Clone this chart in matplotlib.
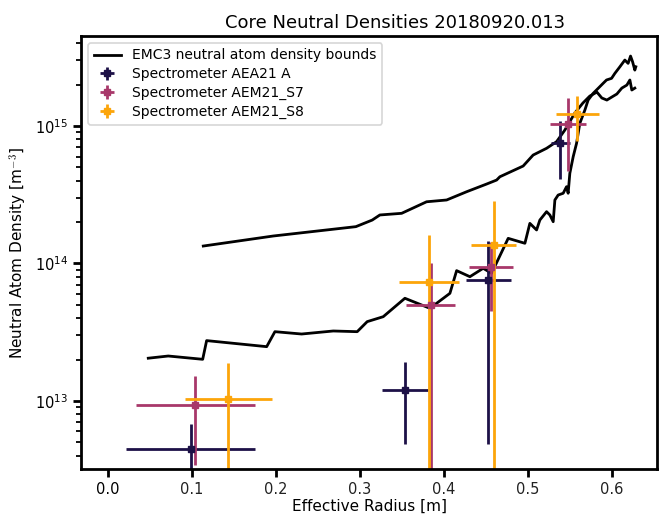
import matplotlib
matplotlib.use("Agg")
import matplotlib.pyplot as plt
import numpy as np

plt.rcParams['mathtext.fontset'] = 'cm'
plt.rcParams['font.family'] = ['DejaVu Sans']

# EMC3 bounds (x in m, log10 density)
upper_x = [0.1137, 0.197, 0.2954, 0.3149, 0.324, 0.3499, 0.3796, 0.4035, 0.4273, 0.4511, 0.463,
           0.4669, 0.4946, 0.5065, 0.5225, 0.5344, 0.5443, 0.5562, 0.5657, 0.574, 0.5824, 0.5883,
           0.5943, 0.6002, 0.6062, 0.6121, 0.6181, 0.6217, 0.624, 0.6276]
upper_log = [14.127, 14.2, 14.268, 14.316, 14.353, 14.365, 14.449, 14.462, 14.522, 14.578, 14.607,
             14.631, 14.709, 14.789, 14.838, 14.886, 14.971, 15.095, 15.167, 15.218, 15.247, 15.204,
             15.189, 15.211, 15.233, 15.276, 15.298, 15.335, 15.262, 15.276]
lower_x = [0.0482, 0.072, 0.113, 0.1177, 0.1892, 0.199, 0.2308, 0.2685, 0.297, 0.3089, 0.328,
           0.3538, 0.3836, 0.4074, 0.4154, 0.4312, 0.447, 0.457, 0.4768, 0.4967, 0.5026, 0.5106,
           0.5145, 0.5225, 0.5264, 0.5304, 0.5324, 0.5363, 0.5423, 0.5463, 0.5482, 0.5502, 0.5542,
           0.5582, 0.5621, 0.5681, 0.572, 0.578, 0.5839, 0.5899, 0.5939, 0.5999, 0.6038, 0.6098,
           0.6157, 0.6196, 0.6225, 0.6249, 0.6276, 0.6288]
lower_log = [13.311, 13.327, 13.303, 13.439, 13.395, 13.504, 13.487, 13.509, 13.504, 13.577, 13.613,
             13.747, 13.674, 13.783, 13.948, 13.904, 13.965, 13.929, 14.183, 14.147, 14.292, 14.244,
             14.316, 14.377, 14.353, 14.304, 14.462, 14.498, 14.511, 14.559, 14.511, 14.656, 14.777,
             14.874, 15.02, 15.116, 15.189, 15.238, 15.274, 15.311, 15.335, 15.347, 15.383, 15.431,
             15.48, 15.456, 15.509, 15.468, 15.407, 15.431]

# Spectrometer data
labels = ["Spectrometer AEA21 A", "Spectrometer AEM21_S7", "Spectrometer AEM21_S8"]
colors = ["#1d1147", "#a8386a", "#fca50a"]
sx = [[0.0987, 0.3538, 0.453, 0.539],
      [0.1042, 0.3844, 0.456, 0.548],
      [0.1435, 0.3824, 0.4594, 0.559]]
sxerr = [[0.077, 0.0275, 0.0266, 0.011],
         [0.071, 0.029, 0.026, 0.0214],
         [0.052, 0.0357, 0.027, 0.0254]]
sy = [[4.45e12, 1.197e13, 7.59e13, 7.48e14],
      [9.31e12, 5.01e13, 9.38e13, 1.03e15],
      [1.03e13, 7.3e13, 1.356e14, 1.22e15]]
syerr = [[2.4e12, 7.1e12, 7.1e13, 3.35e14],
         [5.9e12, 5.0e13, 4.9e13, 5.6e14],
         [8.5e12, 8.8e13, 1.5e14, 4.4e14]]

fig = plt.figure(figsize=(6.59, 5.22), dpi=100)
ax = fig.add_axes([81/659, 1-469/522, 576/659, 433/522])

ax.plot(upper_x, 10**np.array(upper_log), color='black', lw=2, label="EMC3 neutral atom density bounds")
ax.plot(lower_x, 10**np.array(lower_log), color='black', lw=2)

for i in range(3):
    ax.errorbar(sx[i], sy[i], xerr=sxerr[i], yerr=syerr[i], fmt='s', ms=4,
                color=colors[i], elinewidth=2, capsize=0, label=labels[i])

ax.set_yscale('log')
ax.set_xlim(-0.0319, 0.654)
ax.set_ylim(10**12.505, 10**15.655)

ax.set_xticks([0.0, 0.1, 0.2, 0.3, 0.4, 0.5, 0.6])
ax.set_xticklabels(["0.0", "0.1", "0.2", "0.3", "0.4", "0.5", "0.6"])
for j, t in enumerate(ax.get_xticklabels()):
    t.set_fontsize(11 if j == 0 else 9.5)
    if j > 0:
        t.set_color('#222222')

for s in ax.spines.values():
    s.set_linewidth(2)
ax.tick_params(axis='both', which='major', length=6, width=2, labelsize=10.5)
ax.tick_params(axis='y', which='minor', length=3.5, width=1.3)

ax.set_xlabel("Effective Radius [m]", fontsize=11, labelpad=1)
ax.set_ylabel("Neutral Atom Density [m$^{-3}$]", fontsize=11)
ax.set_title("Core Neutral Densities 20180920.013", fontsize=13, x=0.545, pad=6)

leg = ax.legend(loc='upper left', fontsize=10, frameon=True, handlelength=2,
                borderaxespad=0.5, labelspacing=0.35)
leg.get_frame().set_linewidth(1.2)

fig.savefig("out.png", dpi=100)
